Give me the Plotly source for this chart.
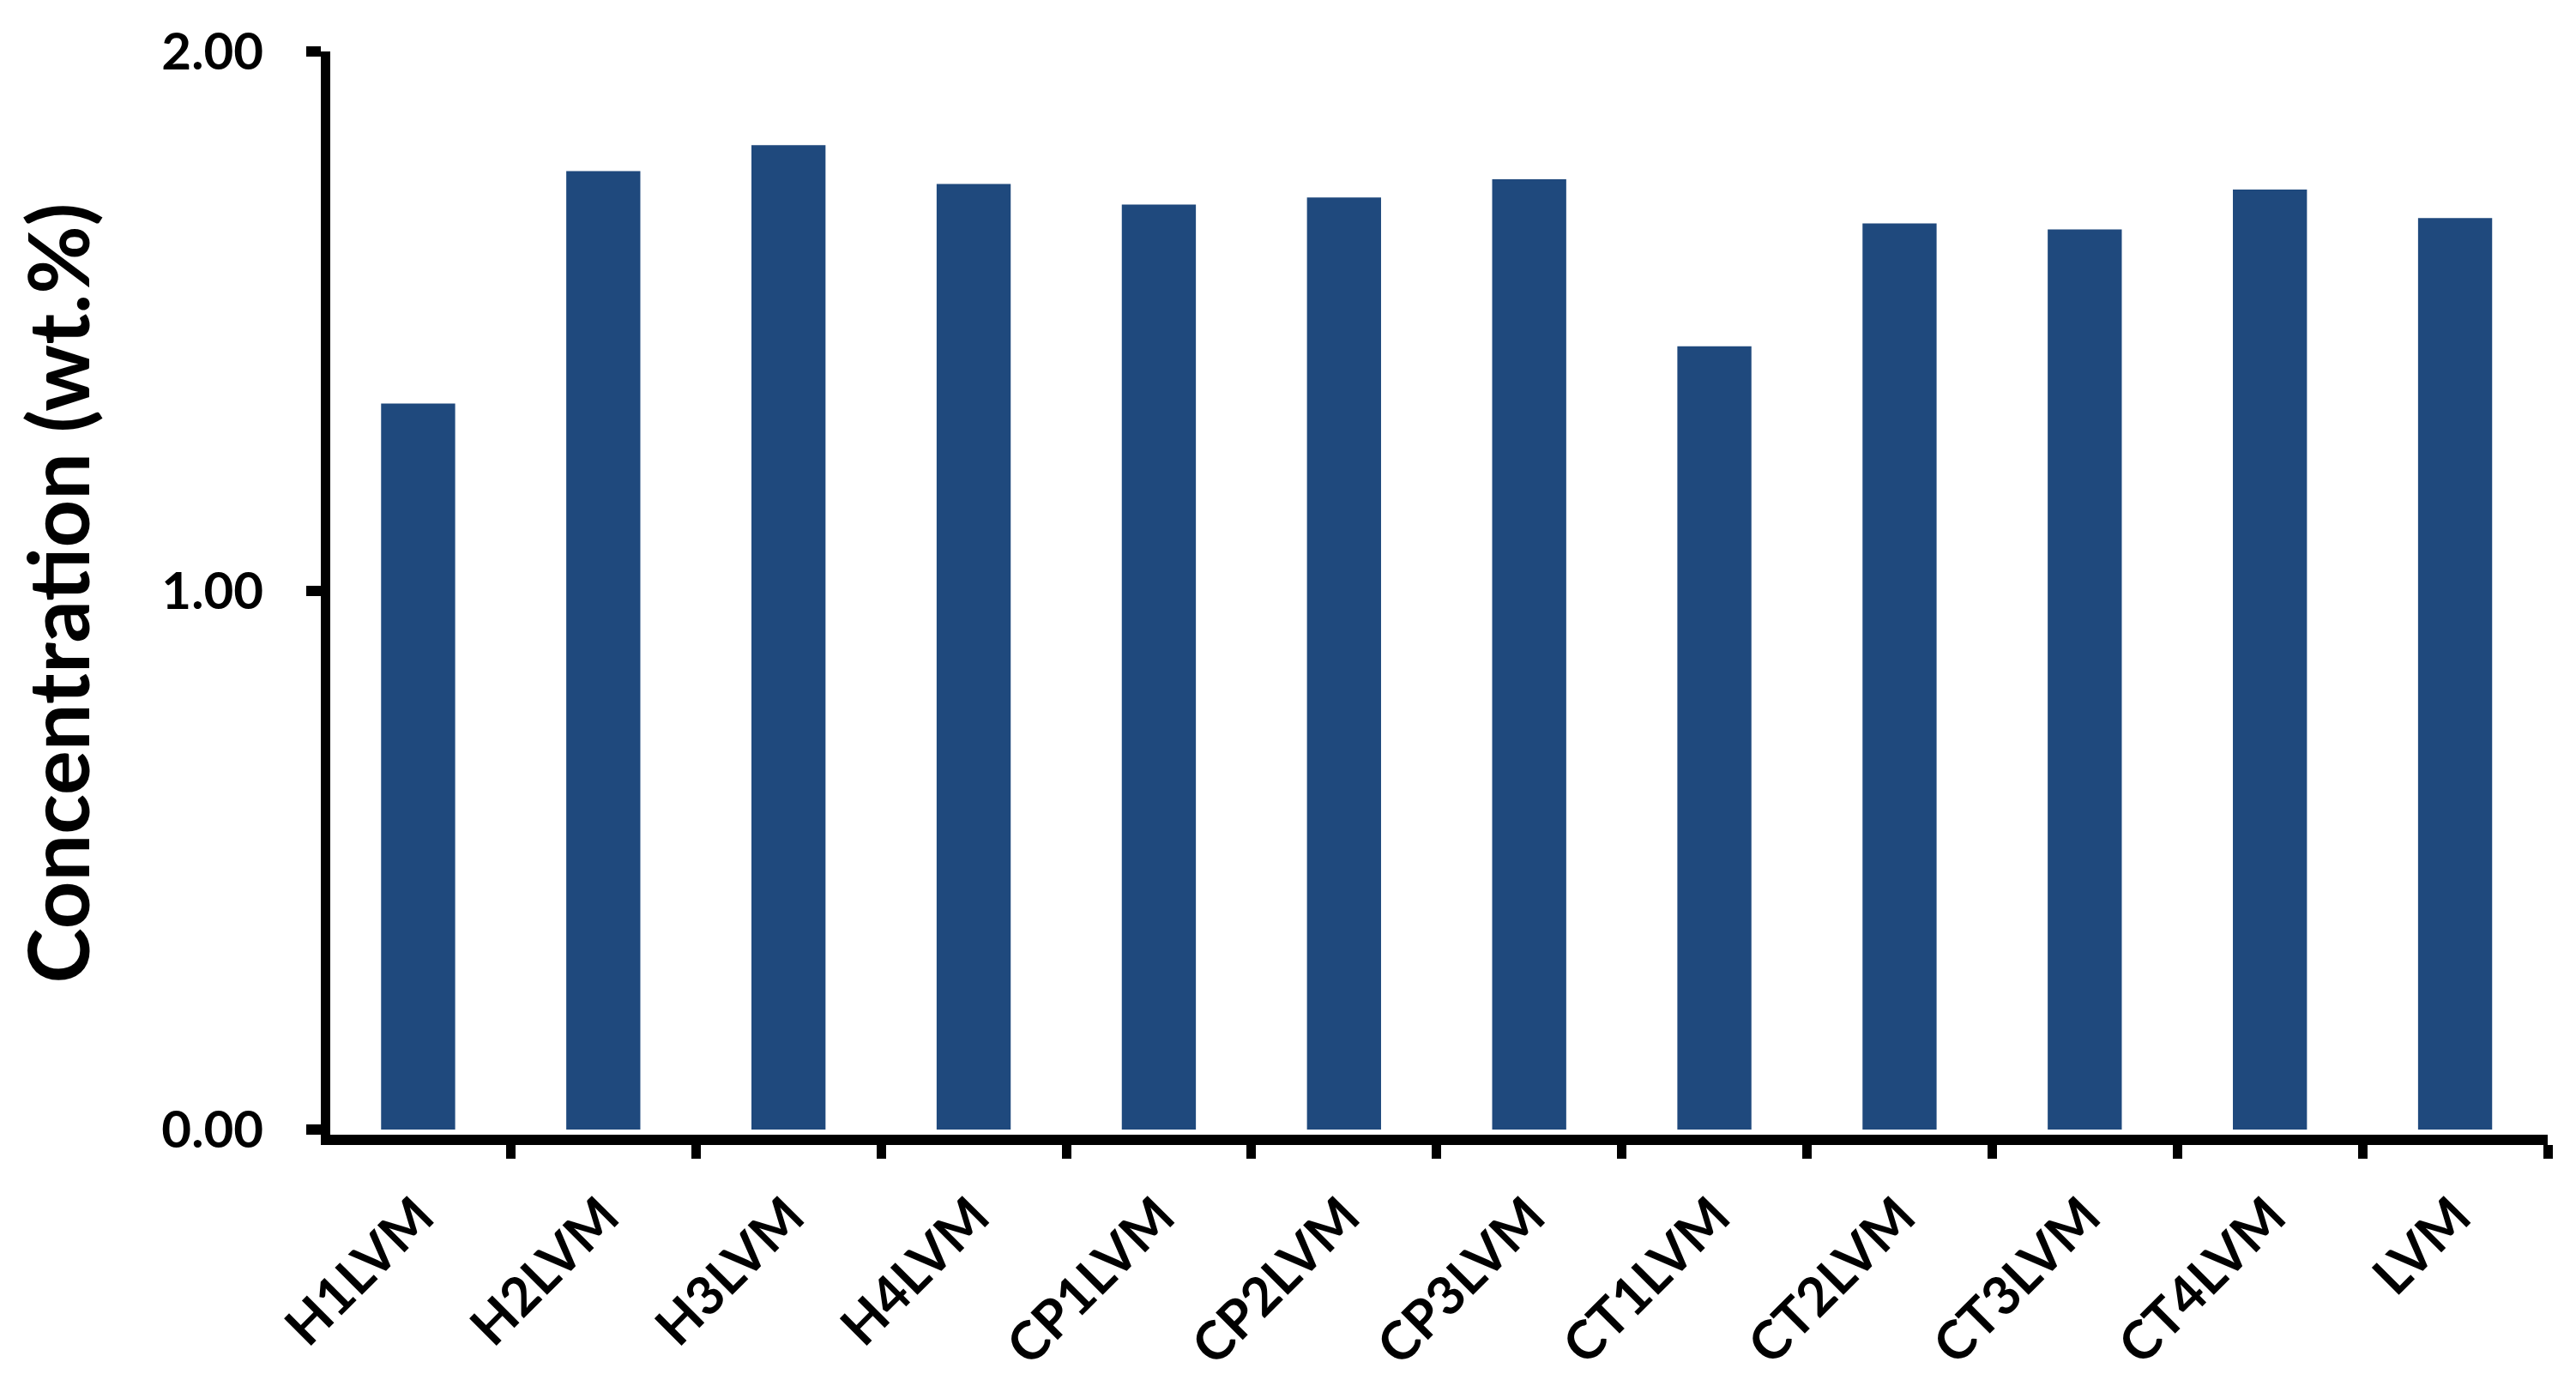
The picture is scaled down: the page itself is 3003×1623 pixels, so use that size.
import plotly.graph_objects as go

# sample names and measured concentration (wt.%)
samples = ['H1LVM', 'H2LVM', 'H3LVM', 'H4LVM', 'CP1LVM', 'CP2LVM',
           'CP3LVM', 'CT1LVM', 'CT2LVM', 'CT3LVM', 'CT4LVM', 'LVM']
concentration = [1.347, 1.778, 1.826, 1.754, 1.716, 1.729,
                 1.763, 1.453, 1.681, 1.670, 1.744, 1.691]

y_ticks = [0, 1, 2]
y_tick_text = ['0.00', '1.00', '2.00']

FONT = 'Lato'
BAR_COLOR = '#1F497D'

fig = go.Figure(
    go.Bar(
        x=samples,
        y=concentration,
        marker=dict(color=BAR_COLOR, line=dict(width=0)),
    )
)

# page body has an 8px margin, so the figure is a bit smaller than the window
fig.update_layout(
    width=2995,
    height=1615,
    margin=dict(l=377, r=33, t=52, b=300, autoexpand=False),
    plot_bgcolor='white',
    paper_bgcolor='white',
    showlegend=False,
    bargap=0.6,
    font=dict(family=FONT, color='black'),
)

# ranges are nudged by half a line width so the thick axis lines sit
# centred on the category boundary / zero, like the original
fig.update_xaxes(
    range=[-0.4745, 11.5],
    showline=True,
    linecolor='black',
    linewidth=12,
    ticks='outside',
    tickson='boundaries',
    ticklen=16,
    tickwidth=11,
    tickcolor='black',
    tickangle=-45,
    ticklabelstandoff=22,
    tickfont=dict(family=FONT, size=62, color='black', weight='bold'),
    showgrid=False,
    zeroline=False,
    automargin=False,
)

fig.update_yaxes(
    range=[-0.0095, 2],
    tickvals=y_ticks,
    ticktext=y_tick_text,
    showline=True,
    linecolor='black',
    linewidth=11,
    ticks='outside',
    ticklen=17,
    tickwidth=12,
    tickcolor='black',
    ticklabelstandoff=38,
    tickfont=dict(family=FONT, size=60, color='black', weight='bold'),
    showgrid=False,
    zeroline=False,
    automargin=False,
    title=dict(
        text='Concentration (wt.%)',
        font=dict(family=FONT, size=97, color='black', weight='bold'),
        standoff=56,
    ),
)

fig.write_html('out.html')
